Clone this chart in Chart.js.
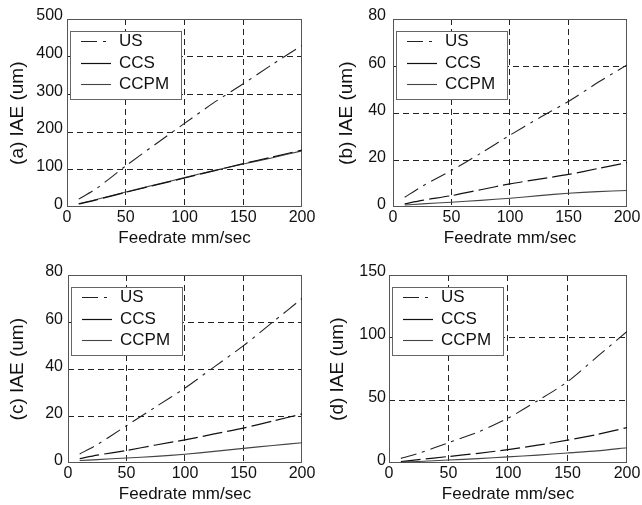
<!DOCTYPE html>
<html>
<head>
<meta charset="utf-8">
<script src="https://cdn.jsdelivr.net/npm/chart.js@4.4.1/dist/chart.umd.min.js"></script>
<style>
  body { margin: 0; background: #fff; width: 642px; height: 505px; overflow: hidden; position: relative; }
  canvas { position: absolute; }
</style>
</head>
<body>
<canvas id="chartA" width="321" height="250" style="left:0;top:0"></canvas>
<canvas id="chartB" width="321" height="250" style="left:321px;top:0"></canvas>
<canvas id="chartC" width="321" height="250" style="left:0;top:256px"></canvas>
<canvas id="chartD" width="321" height="250" style="left:321px;top:256px"></canvas>
<script>
// feedrate values (x axis, mm/sec)
var feedrate = [10, 25, 50, 75, 100, 125, 150, 175, 200];
var seriesNames = ["US", "CCS", "CCPM"];

// panel (a)
var usA   = [22, 50, 110, 167, 223, 278, 328, 380, 430];
var ccsA  = [9, 20, 40, 59, 78, 97, 116, 134, 152];
var ccpmA = [10, 21, 41, 60, 79, 98, 115, 132, 150];
// panel (b)
var usB   = [4.3, 9, 15.7, 23, 30.7, 38, 45, 53, 60.5];
var ccsB  = [1.5, 3, 5, 7.5, 10, 12, 14, 16.5, 19];
var ccpmB = [1, 1.5, 2.2, 3, 3.9, 5, 6, 6.7, 7.2];
// panel (c)
var usC   = [4, 8, 16, 24, 32, 41, 50, 60, 70];
var ccsC  = [2, 3.5, 5.5, 7.8, 10, 12.5, 15, 18, 21];
var ccpmC = [1.2, 1.6, 2.3, 3, 3.9, 5.1, 6.4, 7.6, 8.8];
// panel (d)
var usD   = [4, 8, 16.5, 25, 36, 50, 65, 85, 105];
var ccsD  = [1.5, 3, 5.5, 8, 11, 14.5, 18.5, 23, 28.5];
var ccpmD = [1, 1.5, 2.7, 3.8, 5.2, 6.6, 8.3, 10, 12.5];

// y axis ranges
var yMax  = [500, 80, 80, 150];
var yStep = [100, 20, 20, 50];
var panelTags = ["(a)", "(b)", "(c)", "(d)"];

var fontFam = '"Liberation Sans", Arial, Helvetica, sans-serif';

// frame + inset legend box like the original figure
var boxLegend = {
    id: 'boxLegend',
    beforeDatasetsDraw: function (chart) {
        var a = chart.chartArea, ctx = chart.ctx;
        ctx.save();
        ctx.strokeStyle = '#555';
        ctx.lineWidth = 1;
        ctx.strokeRect(Math.round(a.left) + 0.5, Math.round(a.top) + 0.5,
            Math.round(a.width) - 1, Math.round(a.height) - 1);
        ctx.restore();
    },
    afterDatasetsDraw: function (chart) {
        var a = chart.chartArea, ctx = chart.ctx;
        var x0 = Math.round(a.left) + 3, y0 = Math.round(a.top) + 12;
        ctx.save();
        ctx.fillStyle = '#fff';
        ctx.fillRect(x0, y0, 111, 68);
        ctx.strokeStyle = '#666';
        ctx.lineWidth = 1;
        ctx.strokeRect(x0 + 0.5, y0 + 0.5, 111, 68);
        ctx.font = '17px ' + fontFam;
        ctx.textBaseline = 'middle';
        chart.data.datasets.forEach(function (ds, i) {
            var y = Math.round(a.top + 22 + i * 21.5) + 0.5;
            ctx.beginPath();
            ctx.setLineDash(i === 1 ? [] : (ds.borderDash || []));
            ctx.strokeStyle = ds.borderColor;
            ctx.lineWidth = ds.borderWidth;
            ctx.moveTo(a.left + 14, y);
            ctx.lineTo(a.left + 44, y);
            ctx.stroke();
            ctx.setLineDash([]);
            ctx.fillStyle = '#111';
            ctx.fillText(ds.label, a.left + 52, y);
        });
        ctx.restore();
    }
};

function pts(arr) {
    return feedrate.map(function (x, i) { return {x: x, y: arr[i]}; });
}

function gridColor(c) {
    var n = c.scale.ticks.length;
    return (c.index === 0 || c.index === n - 1) ? 'rgba(0,0,0,0)' : '#222';
}

function makeChart(id, k, us, ccs, ccpm, lay) {
    var ctx = document.getElementById(id).getContext('2d');
    return new Chart(ctx, {
        type: 'line',
        data: {
            datasets: [{
                label: seriesNames[0],
                data: pts(us),
                borderColor: '#222',
                borderWidth: 1.1,
                borderDash: [16, 6, 3, 6]
            }, {
                label: seriesNames[1],
                data: pts(ccs),
                borderColor: '#111',
                borderWidth: 1.2,
                borderDash: [20, 5]
            }, {
                label: seriesNames[2],
                data: pts(ccpm),
                borderColor: '#444',
                borderWidth: 1.1,
                borderDash: []
            }]
        },
        options: {
            responsive: false,
            animation: false,
            devicePixelRatio: 1,
            elements: {
                point: { radius: 0 },
                line: { tension: 0.25, fill: false }
            },
            layout: {
                padding: { left: 2, right: lay.right, top: 19, bottom: 1 }
            },
            plugins: {
                legend: { display: false },
                tooltip: { enabled: false }
            },
            scales: {
                x: {
                    type: 'linear',
                    min: 0,
                    max: 200,
                    ticks: { stepSize: 50, padding: 1, color: '#111', font: { family: fontFam, size: 16 } },
                    grid: { color: gridColor, drawTicks: false },
                    border: { display: false, dash: [6, 4] },
                    title: {
                        display: true,
                        text: 'Feedrate mm/sec',
                        color: '#111',
                        font: { family: fontFam, size: 17 },
                        padding: { top: 0, bottom: 0 }
                    }
                },
                y: {
                    min: 0,
                    max: yMax[k],
                    ticks: { stepSize: yStep[k], padding: lay.tick, labelOffset: -3, color: '#111', font: { family: fontFam, size: 16 } },
                    grid: { color: gridColor, drawTicks: false },
                    border: { display: false, dash: [6, 4] },
                    title: {
                        display: true,
                        text: panelTags[k] + ' IAE (um)',
                        color: '#111',
                        font: { family: fontFam, size: 19 },
                        padding: { top: lay.tTop, bottom: lay.tBot }
                    }
                }
            }
        },
        plugins: [boxLegend]
    });
}

var chartA = makeChart('chartA', 0, usA, ccsA, ccpmA, { right: 19, tick: 4, tTop: 4.6, tBot: 2.9 });
var chartB = makeChart('chartB', 1, usB, ccsB, ccpmB, { right: 15, tick: 7, tTop: 12.6, tBot: 2.8 });
var chartC = makeChart('chartC', 2, usC, ccsC, ccpmC, { right: 19, tick: 5, tTop: 4.6, tBot: 10.8 });
var chartD = makeChart('chartD', 3, usD, ccsD, ccpmD, { right: 15, tick: 3, tTop: 3.6, tBot: 6.9 });
</script>
</body>
</html>
